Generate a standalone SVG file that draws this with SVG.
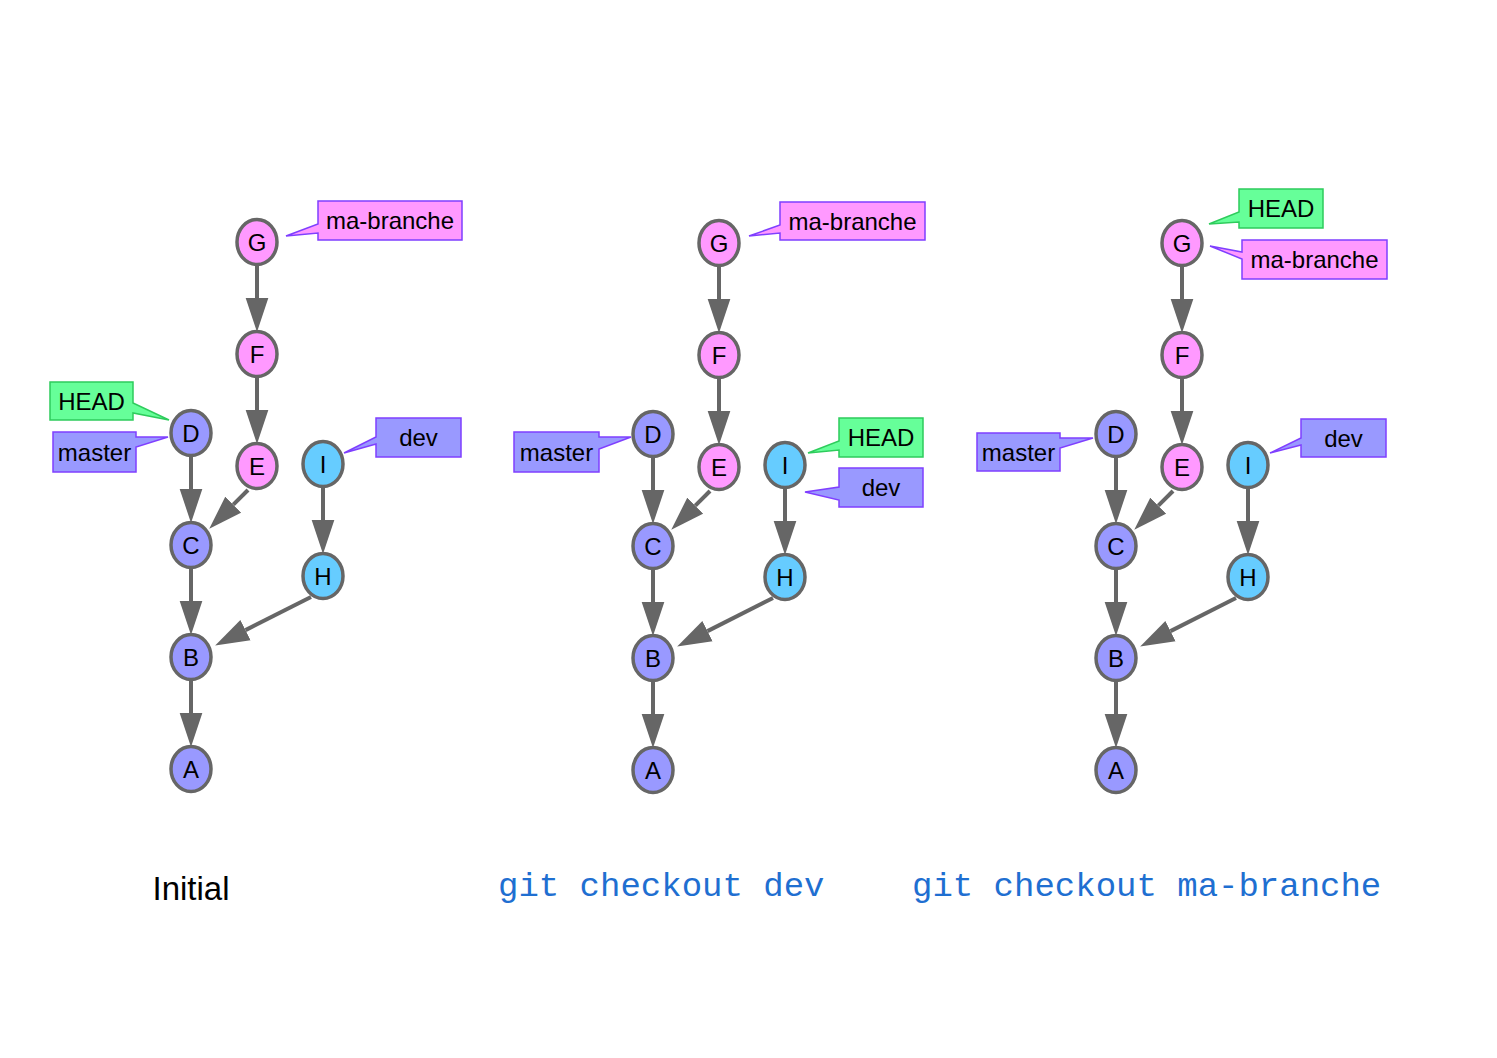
<svg xmlns="http://www.w3.org/2000/svg" width="1497" height="1058" viewBox="0 0 1497 1058">
<style>
.n ellipse{stroke:#666;stroke-width:3.5}
.blue{fill:#9999ff}.pink{fill:#ff99ff}.cyan{fill:#66ccff}
.t{font-family:"Liberation Sans",Arial,sans-serif;font-size:24px;fill:#000;text-anchor:middle}
.e{stroke:#666;stroke-width:4;fill:none;marker-end:url(#ah)}
.lb{stroke:#7f3fff;stroke-width:1.5}
.lh{fill:#66ff99;stroke:#2ecc5c;stroke-width:1.5}
.cap{font-family:"Liberation Mono","Courier New",monospace;font-size:34px;fill:#1f6fd1}
</style>
<defs>
<marker id="ah" markerUnits="userSpaceOnUse" markerWidth="34" markerHeight="24" viewBox="0 -11 33 22" refX="0" refY="0" orient="auto">
<path d="M0,-11 L33,0 L0,11 z" fill="#666"/>
</marker>
</defs>
<rect width="1497" height="1058" fill="#fff"/>

<g id="connectors">
<g id="edges-p1">
<path class="e" d="M257,265 L257,298"/>
<path class="e" d="M257,377 L257,410"/>
<path class="e" d="M191,456 L191,489"/>
<path class="e" d="M191,568 L191,601"/>
<path class="e" d="M191,680 L191,713"/>
<path class="e" d="M323,487 L323,520"/>
<path class="e" d="M248,490 L233.3,504.7"/>
<path class="e" d="M311,597 L245.5,630.1"/>
</g>
<g id="edges-p2" transform="translate(462,1)">
<path class="e" d="M257,265 L257,298"/>
<path class="e" d="M257,377 L257,410"/>
<path class="e" d="M191,456 L191,489"/>
<path class="e" d="M191,568 L191,601"/>
<path class="e" d="M191,680 L191,713"/>
<path class="e" d="M323,487 L323,520"/>
<path class="e" d="M248,490 L233.3,504.7"/>
<path class="e" d="M311,597 L245.5,630.1"/>
</g>
<g id="edges-p3" transform="translate(925,1)">
<path class="e" d="M257,265 L257,298"/>
<path class="e" d="M257,377 L257,410"/>
<path class="e" d="M191,456 L191,489"/>
<path class="e" d="M191,568 L191,601"/>
<path class="e" d="M191,680 L191,713"/>
<path class="e" d="M323,487 L323,520"/>
<path class="e" d="M248,490 L233.3,504.7"/>
<path class="e" d="M311,597 L245.5,630.1"/>
</g>
</g>

<g id="panel1">
<g id="p1-G" class="n"><ellipse class="pink" cx="257" cy="242" rx="20" ry="22.5"/><text class="t" x="257" y="250.5">G</text></g>
<g id="p1-F" class="n"><ellipse class="pink" cx="257" cy="354" rx="20" ry="22.5"/><text class="t" x="257" y="362.5">F</text></g>
<g id="p1-D" class="n"><ellipse class="blue" cx="191" cy="433" rx="20" ry="22.5"/><text class="t" x="191" y="441.5">D</text></g>
<g id="p1-E" class="n"><ellipse class="pink" cx="257" cy="466" rx="20" ry="22.5"/><text class="t" x="257" y="474.5">E</text></g>
<g id="p1-I" class="n"><ellipse class="cyan" cx="323" cy="464" rx="20" ry="22.5"/><text class="t" x="323" y="472.5">I</text></g>
<g id="p1-C" class="n"><ellipse class="blue" cx="191" cy="545" rx="20" ry="22.5"/><text class="t" x="191" y="553.5">C</text></g>
<g id="p1-H" class="n"><ellipse class="cyan" cx="323" cy="576" rx="20" ry="22.5"/><text class="t" x="323" y="584.5">H</text></g>
<g id="p1-B" class="n"><ellipse class="blue" cx="191" cy="657" rx="20" ry="22.5"/><text class="t" x="191" y="665.5">B</text></g>
<g id="p1-A" class="n"><ellipse class="blue" cx="191" cy="769" rx="20" ry="22.5"/><text class="t" x="191" y="777.5">A</text></g>
<g id="p1-HEAD"><polygon class="lh" points="50,382 133,382 133,403 169,420 133,413 133,420 50,420"/><text class="t" x="91.5" y="409.5">HEAD</text></g>
<g id="p1-master"><polygon class="blue lb" points="53,432 136,432 136,437 168,437 136,447 136,472 53,472"/><text class="t" x="94.5" y="460.5">master</text></g>
<g id="p1-ma-branche"><polygon class="pink lb" points="318,201 462,201 462,240 318,240 318,233 286,236 318,224"/><text class="t" x="390" y="229">ma-branche</text></g>
<g id="p1-dev"><polygon class="blue lb" points="376,418 461,418 461,457 376,457 376,444 344,453 376,437"/><text class="t" x="418.5" y="446">dev</text></g>
<text id="cap1" x="191" y="900" font-family="Liberation Sans,Arial,sans-serif" font-size="33" text-anchor="middle" fill="#000">Initial</text>
</g>

<g id="panel2">
<g transform="translate(462,1)">
<g id="p2-G" class="n"><ellipse class="pink" cx="257" cy="242" rx="20" ry="22.5"/><text class="t" x="257" y="250.5">G</text></g>
<g id="p2-F" class="n"><ellipse class="pink" cx="257" cy="354" rx="20" ry="22.5"/><text class="t" x="257" y="362.5">F</text></g>
<g id="p2-D" class="n"><ellipse class="blue" cx="191" cy="433" rx="20" ry="22.5"/><text class="t" x="191" y="441.5">D</text></g>
<g id="p2-E" class="n"><ellipse class="pink" cx="257" cy="466" rx="20" ry="22.5"/><text class="t" x="257" y="474.5">E</text></g>
<g id="p2-I" class="n"><ellipse class="cyan" cx="323" cy="464" rx="20" ry="22.5"/><text class="t" x="323" y="472.5">I</text></g>
<g id="p2-C" class="n"><ellipse class="blue" cx="191" cy="545" rx="20" ry="22.5"/><text class="t" x="191" y="553.5">C</text></g>
<g id="p2-H" class="n"><ellipse class="cyan" cx="323" cy="576" rx="20" ry="22.5"/><text class="t" x="323" y="584.5">H</text></g>
<g id="p2-B" class="n"><ellipse class="blue" cx="191" cy="657" rx="20" ry="22.5"/><text class="t" x="191" y="665.5">B</text></g>
<g id="p2-A" class="n"><ellipse class="blue" cx="191" cy="769" rx="20" ry="22.5"/><text class="t" x="191" y="777.5">A</text></g>
</g>
<g id="p2-ma-branche"><polygon class="pink lb" points="780,202 925,202 925,240 780,240 780,233 749,236 780,225"/><text class="t" x="852.5" y="229.5">ma-branche</text></g>
<g id="p2-master"><polygon class="blue lb" points="514,432 599,432 599,437 631,437 599,449 599,472 514,472"/><text class="t" x="556.5" y="461">master</text></g>
<g id="p2-HEAD"><polygon class="lh" points="839,418 923,418 923,457 839,457 839,450 808,453 839,441"/><text class="t" x="881" y="446">HEAD</text></g>
<g id="p2-dev"><polygon class="blue lb" points="839,468 923,468 923,507 839,507 839,500 805,492 839,487"/><text class="t" x="881" y="496">dev</text></g>
<text id="cap2" class="cap" x="498" y="896">git checkout dev</text>
</g>

<g id="panel3">
<g transform="translate(925,1)">
<g id="p3-G" class="n"><ellipse class="pink" cx="257" cy="242" rx="20" ry="22.5"/><text class="t" x="257" y="250.5">G</text></g>
<g id="p3-F" class="n"><ellipse class="pink" cx="257" cy="354" rx="20" ry="22.5"/><text class="t" x="257" y="362.5">F</text></g>
<g id="p3-D" class="n"><ellipse class="blue" cx="191" cy="433" rx="20" ry="22.5"/><text class="t" x="191" y="441.5">D</text></g>
<g id="p3-E" class="n"><ellipse class="pink" cx="257" cy="466" rx="20" ry="22.5"/><text class="t" x="257" y="474.5">E</text></g>
<g id="p3-I" class="n"><ellipse class="cyan" cx="323" cy="464" rx="20" ry="22.5"/><text class="t" x="323" y="472.5">I</text></g>
<g id="p3-C" class="n"><ellipse class="blue" cx="191" cy="545" rx="20" ry="22.5"/><text class="t" x="191" y="553.5">C</text></g>
<g id="p3-H" class="n"><ellipse class="cyan" cx="323" cy="576" rx="20" ry="22.5"/><text class="t" x="323" y="584.5">H</text></g>
<g id="p3-B" class="n"><ellipse class="blue" cx="191" cy="657" rx="20" ry="22.5"/><text class="t" x="191" y="665.5">B</text></g>
<g id="p3-A" class="n"><ellipse class="blue" cx="191" cy="769" rx="20" ry="22.5"/><text class="t" x="191" y="777.5">A</text></g>
</g>
<g id="p3-HEAD"><polygon class="lh" points="1239,189 1323,189 1323,228 1239,228 1239,222 1209,224 1239,212"/><text class="t" x="1281" y="217">HEAD</text></g>
<g id="p3-ma-branche"><polygon class="pink lb" points="1242,240 1387,240 1387,279 1242,279 1242,259 1210,246 1242,252"/><text class="t" x="1314.5" y="268">ma-branche</text></g>
<g id="p3-master"><polygon class="blue lb" points="977,433 1060,433 1060,438 1093,438 1060,448 1060,471 977,471"/><text class="t" x="1018.5" y="461">master</text></g>
<g id="p3-dev"><polygon class="blue lb" points="1301,419 1386,419 1386,457 1301,457 1301,445 1270,453 1301,438"/><text class="t" x="1343.5" y="446.5">dev</text></g>
<text id="cap3" class="cap" x="912" y="896">git checkout ma-branche</text>
</g>
</svg>
